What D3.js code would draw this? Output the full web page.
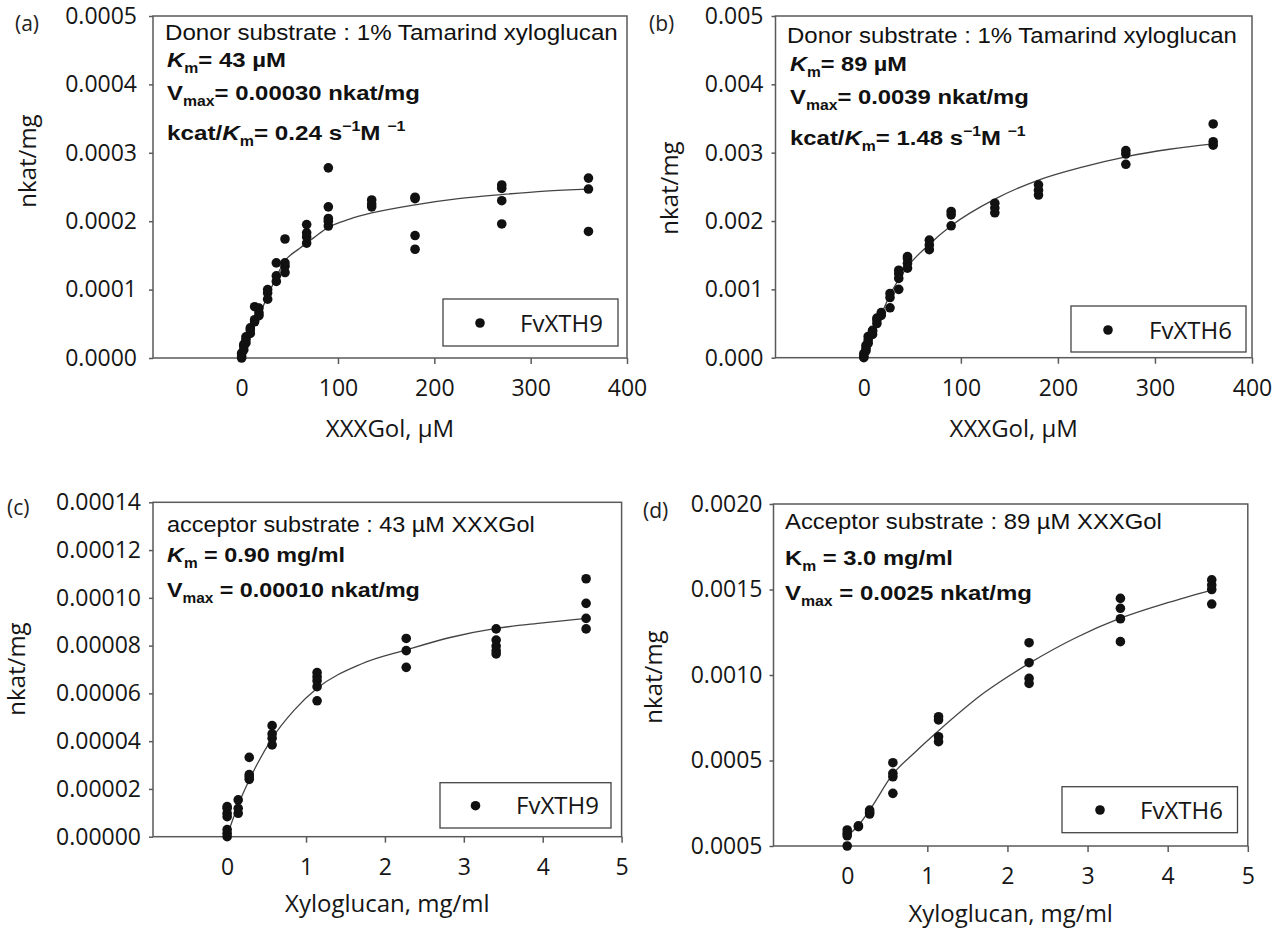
<!DOCTYPE html>
<html>
<head>
<meta charset="utf-8">
<script src="https://cdn.jsdelivr.net/npm/d3@7"></script>
<style>
  body { margin: 0; background: #fff; }
</style>
</head>
<body>
<svg id="chart"></svg>
<script>
// ---------- data ----------
const xTicksUM = [0, 100, 200, 300, 400];
const xTicksMg = [0, 1, 2, 3, 4, 5];

const yTicksA = [0, 0.0001, 0.0002, 0.0003, 0.0004, 0.0005];
const yLabelsA = ["0.0000", "0.0001", "0.0002", "0.0003", "0.0004", "0.0005"];
const yTicksB = [0, 0.001, 0.002, 0.003, 0.004, 0.005];
const yLabelsB = ["0.000", "0.001", "0.002", "0.003", "0.004", "0.005"];
const yTicksC = [0, 0.00002, 0.00004, 0.00006, 0.00008, 0.00010, 0.00012, 0.00014];
const yLabelsC = ["0.00000", "0.00002", "0.00004", "0.00006", "0.00008", "0.00010", "0.00012", "0.00014"];
const yTicksD = [0, 0.0005, 0.001, 0.0015, 0.002];
const yLabelsD = ["0.0005", "0.0005", "0.0010", "0.0015", "0.0020"];

// (a) FvXTH9, donor = tamarind xyloglucan, acceptor XXXGol (uM)
const pointsA = [
  [0, 0], [0, 0.000003], [0, 0.000007],
  [2.25, 0.000012], [2.25, 0.000017], [2.25, 0.00002],
  [4.5, 0.000022], [4.5, 0.000027], [4.5, 0.000031],
  [9, 0.000036], [9, 0.000041], [9, 0.000044],
  [13.5, 0.000053], [13.5, 0.000056], [13.5, 0.000075],
  [18, 0.000062], [18, 0.000066], [18, 0.000073],
  [27, 0.000086], [27, 0.000095], [27, 0.0001],
  [36, 0.000112], [36, 0.00012], [36, 0.000139],
  [45, 0.000125], [45, 0.000134], [45, 0.000139], [45, 0.000174],
  [67.5, 0.000168], [67.5, 0.000177], [67.5, 0.000183], [67.5, 0.000195],
  [90, 0.000193], [90, 0.0002], [90, 0.000204], [90, 0.000221], [90, 0.000278],
  [135, 0.000221], [135, 0.000225], [135, 0.000231],
  [180, 0.000159], [180, 0.000179], [180, 0.000233], [180, 0.000235],
  [270, 0.000196], [270, 0.00023], [270, 0.000248], [270, 0.000253],
  [360, 0.000185], [360, 0.000247], [360, 0.000263]
];
const fitA = [
  [0, 0], [10, 0.000036], [20, 0.000068], [30, 0.0001], [45, 0.000142], [60, 0.00016],
  [75, 0.000176], [90, 0.000191], [112, 0.000203], [135, 0.000212], [180, 0.000224],
  [225, 0.000233], [270, 0.000239], [315, 0.000244], [360, 0.000247]
];

// (b) FvXTH6, donor = tamarind xyloglucan, acceptor XXXGol (uM)
const pointsB = [
  [0, 0], [0, 0.00002], [0, 0.00006],
  [2.25, 0.0001], [2.25, 0.00014], [2.25, 0.00018],
  [4.5, 0.00021], [4.5, 0.00026], [4.5, 0.00031],
  [9, 0.00034], [9, 0.00038], [9, 0.0004],
  [13.5, 0.0005], [13.5, 0.00055], [13.5, 0.00058],
  [18, 0.00062], [18, 0.00066],
  [27, 0.00073], [27, 0.00088], [27, 0.00094],
  [36, 0.001], [36, 0.00116], [36, 0.00123], [36, 0.00128],
  [45, 0.00131], [45, 0.00138], [45, 0.00145], [45, 0.00148],
  [67.5, 0.00158], [67.5, 0.00165], [67.5, 0.00172],
  [90, 0.00193], [90, 0.00209], [90, 0.00214],
  [135, 0.00212], [135, 0.00219], [135, 0.00226],
  [180, 0.00238], [180, 0.00245], [180, 0.00253],
  [270, 0.00283], [270, 0.00298], [270, 0.00303],
  [360, 0.00311], [360, 0.00316], [360, 0.00342]
];
const fitB = [
  [0, 0], [9, 0.00033], [18, 0.00063], [27, 0.00092], [45, 0.00133], [67.5, 0.00166],
  [90, 0.00193], [135, 0.00232], [180, 0.0026], [225, 0.00279], [270, 0.00294],
  [315, 0.00305], [360, 0.00313]
];

// (c) FvXTH9, acceptor = 43 uM XXXGol, donor xyloglucan (mg/ml)
const pointsC = [
  [0, 0], [0, 0.0000014], [0, 0.000003], [0, 0.0000084], [0, 0.0000098], [0, 0.0000119], [0, 0.0000126],
  [0.14, 0.0000098], [0.14, 0.0000119], [0.14, 0.0000154],
  [0.28, 0.000024], [0.28, 0.0000251], [0.28, 0.000026], [0.28, 0.0000332],
  [0.57, 0.0000384], [0.57, 0.0000412], [0.57, 0.000043], [0.57, 0.0000465],
  [1.14, 0.0000569], [1.14, 0.0000628], [1.14, 0.0000653], [1.14, 0.000067], [1.14, 0.0000687],
  [2.27, 0.0000709], [2.27, 0.0000779], [2.27, 0.000083],
  [3.41, 0.0000765], [3.41, 0.0000779], [3.41, 0.0000798], [3.41, 0.0000823], [3.41, 0.000087],
  [4.55, 0.000087], [4.55, 0.0000914], [4.55, 0.0000977], [4.55, 0.000108]
];
const fitC = [
  [0, 0.0000005], [0.14, 0.0000133], [0.28, 0.0000237], [0.57, 0.0000412], [0.85, 0.000053],
  [1.14, 0.0000621], [1.7, 0.0000723], [2.27, 0.0000782], [2.84, 0.0000835],
  [3.41, 0.0000872], [4.0, 0.0000895], [4.55, 0.0000914]
];

// (d) FvXTH6, acceptor = 89 uM XXXGol, donor xyloglucan (mg/ml)
const pointsD = [
  [0, 0], [0, 0.00006], [0, 0.000075], [0, 0.000094],
  [0.14, 0.000113], [0.14, 0.000118],
  [0.28, 0.000187], [0.28, 0.000198], [0.28, 0.00021],
  [0.57, 0.000308], [0.57, 0.000405], [0.57, 0.000425], [0.57, 0.000487],
  [1.14, 0.00061], [1.14, 0.000639], [1.14, 0.000737], [1.14, 0.000756],
  [2.27, 0.000951], [2.27, 0.00098], [2.27, 0.001072], [2.27, 0.001189],
  [3.41, 0.001195], [3.41, 0.001329], [3.41, 0.00139], [3.41, 0.001448],
  [4.55, 0.001415], [4.55, 0.0015], [4.55, 0.001526], [4.55, 0.001556]
];
const fitD = [
  [0, 0.00006], [0.14, 0.00012], [0.28, 0.00021], [0.57, 0.00042], [0.85, 0.00055],
  [1.14, 0.000674], [1.7, 0.000893], [2.27, 0.001068], [2.84, 0.001215],
  [3.41, 0.001332], [4.0, 0.001423], [4.55, 0.001497]
];

// annotation text: [text, style]  '' plain, b bold, bi bold italic, sub / sup (bold)
const notesA = [
  [["Donor substrate : 1% Tamarind xyloglucan", ""]],
  [["K", "bi"], ["m", "sub"], ["= 43 µM", "b"]],
  [["V", "b"], ["max", "sub"], ["= 0.00030 nkat/mg", "b"]],
  [["kcat/", "b"], ["K", "bi"], ["m", "sub"], ["= 0.24 s", "b"], ["−1", "sup"], ["M ", "b"], ["−1", "sup"]]
];
const notesB = [
  [["Donor substrate : 1% Tamarind xyloglucan", ""]],
  [["K", "bi"], ["m", "sub"], ["= 89 µM", "b"]],
  [["V", "b"], ["max", "sub"], ["= 0.0039 nkat/mg", "b"]],
  [["kcat/", "b"], ["K", "bi"], ["m", "sub"], ["= 1.48 s", "b"], ["−1", "sup"], ["M ", "b"], ["−1", "sup"]]
];
const notesC = [
  [["acceptor substrate : 43 µM XXXGol", ""]],
  [["K", "bi"], ["m", "sub"], [" = 0.90 mg/ml", "b"]],
  [["V", "b"], ["max", "sub"], [" = 0.00010 nkat/mg", "b"]]
];
const notesD = [
  [["Acceptor substrate : 89 µM XXXGol", ""]],
  [["K", "b"], ["m", "sub"], [" = 3.0 mg/ml", "b"]],
  [["V", "b"], ["max", "sub"], [" = 0.0025 nkat/mg", "b"]]
];

// ---------- layout ----------
const width = 1284, height = 929;

const panels = [
  {
    letter: "(a)", letterPos: [15, 31],
    frame: { l: 153, t: 16, r: 627, b: 358 },
    xDomain: [-92, 400], yDomain: [0, 0.0005],
    xTicks: xTicksUM, yTicks: yTicksA, yLabels: yLabelsA, yPad: 12,
    points: pointsA, fit: fitA,
    yTitlePos: [36, 161], xTitle: "XXXGol, µM", xTitleY: 437,
    notes: notesA, noteX: [165, 167, 167, 167], noteY: [40, 67, 100, 140], noteW: [453, 119, 253, 239],
    legend: { box: [443, 299, 618, 346], dot: [480, 323], textX: 520, label: "FvXTH9" }
  },
  {
    letter: "(b)", letterPos: [649, 31],
    frame: { l: 775.5, t: 16, r: 1252, b: 357.7 },
    xDomain: [-91, 400], yDomain: [0, 0.005],
    xTicks: xTicksUM, yTicks: yTicksB, yLabels: yLabelsB, yPad: 8,
    points: pointsB, fit: fitB,
    yTitlePos: [678, 188], xTitle: "XXXGol, µM", xTitleY: 437,
    notes: notesB, noteX: [787, 790, 790, 790], noteY: [43, 71, 104, 145], noteW: [450, 117, 239, 236],
    legend: { box: [1071, 306, 1246, 352], dot: [1108, 330], textX: 1149, label: "FvXTH6" }
  },
  {
    letter: "(c)", letterPos: [7, 515],
    frame: { l: 153, t: 502.3, r: 621.6, b: 836.7 },
    xDomain: [-0.94, 5], yDomain: [0, 0.00014],
    xTicks: xTicksMg, yTicks: yTicksC, yLabels: yLabelsC, yPad: 8,
    points: pointsC, fit: fitC,
    yTitlePos: [24.5, 669], xTitle: "Xyloglucan, mg/ml", xTitleY: 912,
    notes: notesC, noteX: [167, 167, 167], noteY: [532, 562, 597], noteW: [368, 178, 253],
    legend: { box: [440, 782.7, 611, 828], dot: [475.5, 805.7], textX: 516, label: "FvXTH9" }
  },
  {
    letter: "(d)", letterPos: [643, 518],
    frame: { l: 773.5, t: 504, r: 1247.8, b: 846 },
    xDomain: [-0.92, 5], yDomain: [0, 0.002],
    xTicks: xTicksMg, yTicks: yTicksD, yLabels: yLabelsD, yPad: 7,
    points: pointsD, fit: fitD,
    yTitlePos: [661.5, 677], xTitle: "Xyloglucan, mg/ml", xTitleY: 922,
    notes: notesD, noteX: [785, 785, 785], noteY: [529, 565, 600], noteW: [377, 168, 247],
    legend: { box: [1062, 786.7, 1237.5, 832.7], dot: [1100, 810], textX: 1140, label: "FvXTH6" }
  }
];

const uiFont = '"Open Sans", "Noto Sans", sans-serif';
const noteFont = '"Liberation Sans", Arial, sans-serif';
const axisColor = "#5a5a5a";

const svg = d3.select("#chart")
  .attr("width", width)
  .attr("height", height)
  .style("font-family", uiFont);

// one line of rich text, squeezed/stretched to the measured width
function richLine(g, x, y, segs, size, targetW) {
  const t = g.append("text")
    .attr("transform", `translate(${x},${y})`)
    .style("font-family", noteFont)
    .style("font-size", size + "px")
    .attr("fill", "#111");
  let prev = 0;
  segs.forEach(([s, st]) => {
    const shift = st === "sub" ? size * 0.3 : st === "sup" ? -size * 0.42 : 0;
    const ts = t.append("tspan").attr("dy", shift - prev).text(s);
    prev = shift;
    if (st === "sub" || st === "sup") ts.style("font-size", (size * 0.66) + "px");
    if (st !== "") ts.style("font-weight", "bold");
    if (st === "bi") ts.style("font-style", "italic");
  });
  const w = t.node().getBBox().width;
  t.attr("transform", `translate(${x},${y}) scale(${targetW / w},1)`);
}

panels.forEach(p => {
  const f = p.frame;
  const g = svg.append("g");

  const x = d3.scaleLinear().domain(p.xDomain).range([f.l, f.r]);
  const y = d3.scaleLinear().domain(p.yDomain).range([f.b, f.t]);

  // axes
  const yAxis = g.append("g")
    .attr("transform", `translate(${f.l},0)`)
    .call(d3.axisLeft(y)
      .tickValues(p.yTicks)
      .tickFormat((d, i) => p.yLabels[i])
      .tickSize(4)
      .tickPadding(p.yPad));

  const xAxis = g.append("g")
    .attr("transform", `translate(0,${f.b})`)
    .call(d3.axisBottom(x)
      .tickValues(p.xTicks)
      .tickFormat(d3.format("d"))
      .tickSize(6)
      .tickPadding(16));
  xAxis.selectAll(".tick").filter(d => d === 0).select("line").remove();

  [yAxis, xAxis].forEach(a => {
    a.select(".domain").remove();
    a.selectAll(".tick line").attr("stroke", axisColor).attr("stroke-width", 1.5);
    a.selectAll(".tick text")
      .attr("fill", "#161616")
      .style("font-family", uiFont)
      .style("font-size", "23px");
  });

  // frame
  g.append("rect")
    .attr("x", f.l).attr("y", f.t)
    .attr("width", f.r - f.l).attr("height", f.b - f.t)
    .attr("fill", "none")
    .attr("stroke", axisColor)
    .attr("stroke-width", 1.5);

  // fitted curve
  const line = d3.line()
    .x(d => x(d[0]))
    .y(d => y(d[1]))
    .curve(d3.curveMonotoneX);
  g.append("path")
    .datum(p.fit)
    .attr("d", line)
    .attr("fill", "none")
    .attr("stroke", "#444")
    .attr("stroke-width", 1.3);

  // measured points
  g.selectAll(".pt")
    .data(p.points)
    .join("circle")
    .attr("class", "pt")
    .attr("cx", d => x(d[0]))
    .attr("cy", d => y(d[1]))
    .attr("r", 4.8)
    .attr("fill", "#111");

  // axis titles
  g.append("text")
    .attr("transform", `translate(${p.yTitlePos[0]},${p.yTitlePos[1]}) rotate(-90)`)
    .attr("text-anchor", "middle")
    .attr("fill", "#161616")
    .style("font-size", "24px")
    .text("nkat/mg");

  g.append("text")
    .attr("x", (f.l + f.r) / 2)
    .attr("y", p.xTitleY)
    .attr("text-anchor", "middle")
    .attr("fill", "#161616")
    .style("font-size", "24px")
    .text(p.xTitle);

  // panel letter
  g.append("text")
    .attr("x", p.letterPos[0])
    .attr("y", p.letterPos[1])
    .attr("fill", "#222")
    .style("font-size", "21px")
    .text(p.letter);

  // kinetic constants
  p.notes.forEach((segs, i) => {
    richLine(g, p.noteX[i], p.noteY[i], segs, i === 0 ? 22 : 21, p.noteW[i]);
  });

  // legend
  const L = p.legend;
  g.append("rect")
    .attr("x", L.box[0]).attr("y", L.box[1])
    .attr("width", L.box[2] - L.box[0]).attr("height", L.box[3] - L.box[1])
    .attr("fill", "#fff")
    .attr("stroke", "#444")
    .attr("stroke-width", 1.3);
  g.append("circle")
    .attr("cx", L.dot[0]).attr("cy", L.dot[1])
    .attr("r", 4.8)
    .attr("fill", "#111");
  g.append("text")
    .attr("x", L.textX)
    .attr("y", L.dot[1] + 8.6)
    .attr("fill", "#161616")
    .style("font-size", "24px")
    .text(L.label);
});
</script>
</body>
</html>
